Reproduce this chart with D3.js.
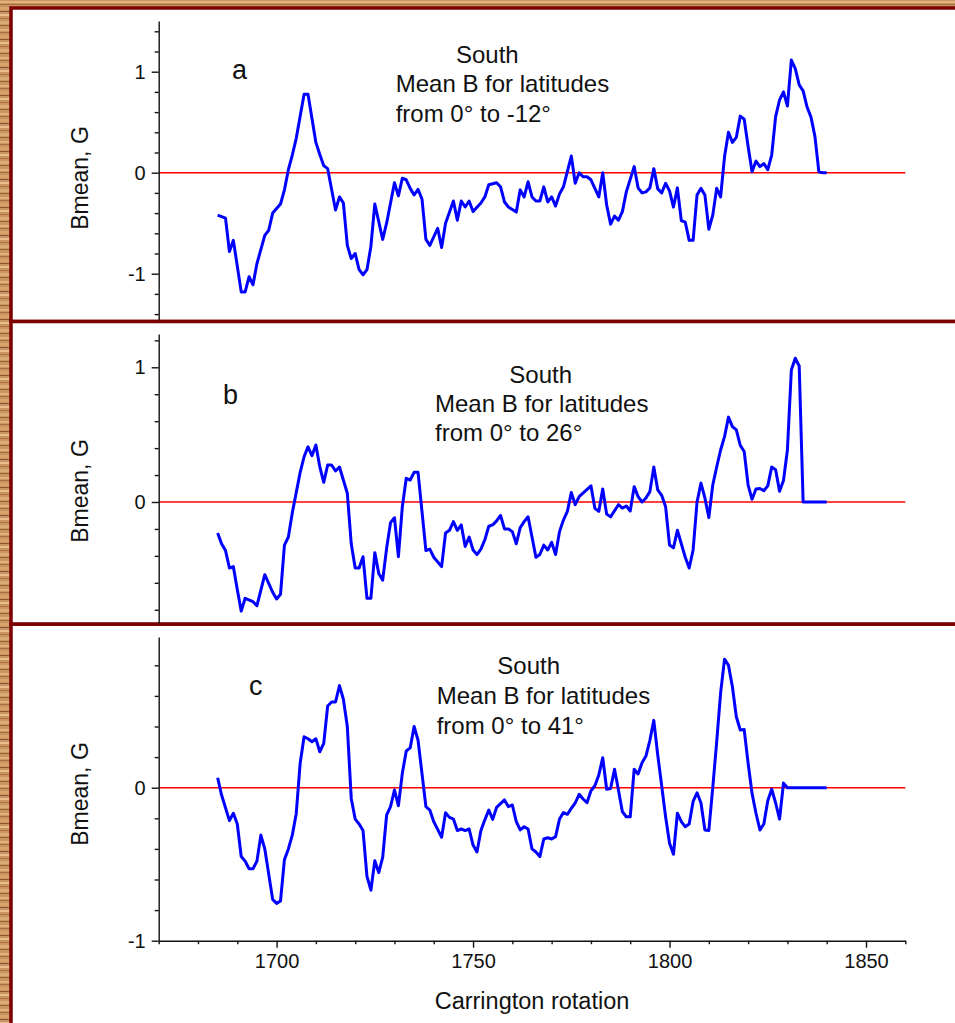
<!DOCTYPE html>
<html>
<head>
<meta charset="utf-8">
<script src="https://cdn.jsdelivr.net/npm/d3@7"></script>
<style>
  body { margin: 0; background: #fff; }
  text { font-family: "Liberation Sans", Arial, sans-serif; fill: #111; }
</style>
</head>
<body>
<div id="chart"></div>
<script>
// Carrington rotation, Bmean (G)
const seriesA = [
  [1685,-0.42],[1687,-0.45],[1688,-0.78],[1689,-0.67],[1691,-1.18],[1692,-1.18],[1693,-1.03],[1694,-1.11],
  [1695,-0.90],[1697,-0.62],[1698,-0.57],[1699,-0.40],[1701,-0.31],[1702,-0.17],[1703,0.03],[1704,0.175],
  [1705,0.34],[1707,0.776],[1708,0.776],[1710,0.30],[1711,0.18],[1712,0.07],[1713,0.04],[1715,-0.37],
  [1716,-0.24],[1717,-0.30],[1718,-0.72],[1719,-0.85],[1720,-0.80],[1721,-0.96],[1722,-1.01],[1723,-0.96],
  [1724,-0.73],[1725,-0.31],[1727,-0.66],[1728,-0.50],[1730,-0.10],[1731,-0.23],[1732,-0.055],[1733,-0.07],
  [1734,-0.155],[1735,-0.22],[1736,-0.165],[1737,-0.26],[1738,-0.66],[1739,-0.72],[1741,-0.55],[1742,-0.74],
  [1743,-0.50],[1745,-0.28],[1746,-0.47],[1747,-0.28],[1748,-0.34],[1749,-0.28],[1750,-0.385],[1752,-0.30],
  [1753,-0.24],[1754,-0.12],[1756,-0.10],[1757,-0.14],[1758,-0.29],[1759,-0.34],[1761,-0.39],[1762,-0.17],
  [1763,-0.24],[1764,-0.09],[1765,-0.24],[1766,-0.28],[1767,-0.28],[1768,-0.14],[1769,-0.29],[1770,-0.24],
  [1771,-0.33],[1772,-0.21],[1773,-0.14],[1775,0.165],[1776,-0.105],[1777,0.0],[1778,-0.04],[1779,-0.04],
  [1780,-0.07],[1782,-0.24],[1783,0.0],[1784,-0.32],[1785,-0.51],[1786,-0.43],[1787,-0.47],[1788,-0.385],
  [1789,-0.19],[1791,0.06],[1792,-0.15],[1793,-0.20],[1794,-0.19],[1795,-0.15],[1796,0.04],[1797,-0.16],
  [1798,-0.20],[1799,-0.105],[1800,-0.18],[1801,-0.34],[1802,-0.15],[1803,-0.475],[1804,-0.49],[1805,-0.67],
  [1806,-0.67],[1807,-0.22],[1808,-0.155],[1809,-0.22],[1810,-0.56],[1811,-0.42],[1812,-0.155],[1813,-0.24],
  [1814,0.16],[1815,0.40],[1816,0.30],[1817,0.35],[1818,0.56],[1819,0.53],[1820,0.26],[1821,0.01],
  [1822,0.115],[1823,0.06],[1824,0.09],[1825,0.03],[1826,0.175],[1827,0.555],[1828,0.72],[1829,0.80],
  [1830,0.66],[1831,1.115],[1832,1.03],[1833,0.87],[1834,0.81],[1835,0.65],[1836,0.55],[1837,0.36],
  [1838,0.01],[1839,0.0],[1840,0.0]
];

const seriesB = [
  [1685,-0.23],[1686,-0.31],[1687,-0.36],[1688,-0.49],[1689,-0.48],[1690,-0.65],[1691,-0.81],[1692,-0.715],
  [1694,-0.74],[1695,-0.77],[1697,-0.54],[1699,-0.67],[1700,-0.72],[1701,-0.685],[1702,-0.32],[1703,-0.26],
  [1704,-0.08],[1706,0.22],[1707,0.336],[1708,0.41],[1709,0.344],[1710,0.423],[1711,0.26],[1712,0.146],
  [1713,0.275],[1714,0.275],[1715,0.23],[1716,0.26],[1718,0.065],[1719,-0.31],[1720,-0.49],[1721,-0.49],
  [1722,-0.406],[1723,-0.715],[1724,-0.715],[1725,-0.376],[1726,-0.53],[1727,-0.58],[1728,-0.344],[1729,-0.153],
  [1730,-0.117],[1731,-0.406],[1732,-0.035],[1733,0.176],[1734,0.163],[1735,0.22],[1736,0.22],[1738,-0.36],
  [1739,-0.35],[1740,-0.41],[1742,-0.48],[1743,-0.23],[1744,-0.21],[1745,-0.146],[1746,-0.21],[1747,-0.17],
  [1748,-0.33],[1749,-0.26],[1750,-0.356],[1751,-0.39],[1752,-0.35],[1753,-0.28],[1754,-0.18],[1755,-0.17],
  [1756,-0.14],[1757,-0.10],[1758,-0.20],[1759,-0.20],[1760,-0.22],[1761,-0.31],[1762,-0.19],[1763,-0.146],
  [1764,-0.11],[1765,-0.26],[1766,-0.41],[1767,-0.39],[1768,-0.32],[1769,-0.356],[1770,-0.30],[1771,-0.39],
  [1772,-0.22],[1773,-0.134],[1774,-0.07],[1775,0.07],[1776,-0.02],[1777,0.04],[1780,0.12],[1781,-0.047],
  [1782,-0.07],[1783,0.096],[1784,-0.09],[1785,-0.11],[1787,-0.02],[1788,-0.045],[1789,-0.03],[1790,-0.067],
  [1791,0.114],[1792,0.04],[1793,0.0],[1794,0.03],[1795,0.077],[1796,0.26],[1797,0.09],[1798,0.05],
  [1799,-0.035],[1800,-0.32],[1801,-0.34],[1802,-0.21],[1803,-0.31],[1804,-0.41],[1805,-0.49],[1806,-0.356],
  [1807,0.0],[1808,0.14],[1809,0.03],[1810,-0.115],[1811,0.126],[1812,0.26],[1813,0.386],[1814,0.485],
  [1815,0.63],[1816,0.56],[1817,0.535],[1818,0.42],[1819,0.375],[1820,0.126],[1821,0.02],[1822,0.096],
  [1823,0.10],[1824,0.084],[1825,0.12],[1826,0.26],[1827,0.24],[1828,0.08],[1829,0.16],[1830,0.386],
  [1831,0.98],[1832,1.067],[1833,1.01],[1834,0.0],[1840,0.0]
];

const seriesC = [
  [1685,0.065],[1686,-0.048],[1688,-0.215],[1689,-0.167],[1690,-0.237],[1691,-0.45],[1692,-0.48],[1693,-0.53],
  [1694,-0.53],[1695,-0.48],[1696,-0.31],[1697,-0.40],[1699,-0.73],[1700,-0.756],[1701,-0.74],[1702,-0.47],
  [1703,-0.40],[1704,-0.31],[1705,-0.17],[1706,0.16],[1707,0.333],[1708,0.32],[1709,0.30],[1710,0.32],
  [1711,0.235],[1712,0.29],[1713,0.534],[1714,0.56],[1715,0.56],[1716,0.667],[1717,0.578],[1718,0.40],
  [1719,-0.07],[1720,-0.205],[1721,-0.237],[1722,-0.28],[1723,-0.58],[1724,-0.67],[1725,-0.477],[1726,-0.555],
  [1727,-0.455],[1728,-0.18],[1729,-0.124],[1730,-0.015],[1731,-0.118],[1732,0.094],[1733,0.24],[1734,0.26],
  [1735,0.40],[1736,0.31],[1738,-0.124],[1739,-0.146],[1740,-0.222],[1742,-0.324],[1743,-0.163],[1744,-0.194],
  [1745,-0.205],[1746,-0.28],[1747,-0.27],[1748,-0.28],[1749,-0.27],[1750,-0.375],[1751,-0.42],[1752,-0.28],
  [1753,-0.21],[1754,-0.146],[1755,-0.207],[1756,-0.128],[1758,-0.08],[1759,-0.124],[1760,-0.113],[1761,-0.222],
  [1762,-0.276],[1763,-0.255],[1764,-0.27],[1765,-0.40],[1766,-0.42],[1767,-0.45],[1768,-0.335],[1769,-0.327],
  [1770,-0.335],[1771,-0.32],[1772,-0.205],[1773,-0.163],[1774,-0.174],[1775,-0.135],[1776,-0.10],[1777,-0.043],
  [1778,-0.074],[1779,-0.098],[1780,-0.02],[1781,0.013],[1782,0.083],[1783,0.196],[1784,-0.01],[1785,-0.005],
  [1786,0.12],[1787,-0.015],[1788,-0.157],[1789,-0.19],[1790,-0.19],[1791,0.12],[1792,0.09],[1793,0.163],
  [1794,0.207],[1795,0.31],[1796,0.44],[1797,0.214],[1798,0.013],[1799,-0.19],[1800,-0.363],[1801,-0.435],
  [1802,-0.167],[1803,-0.222],[1804,-0.255],[1805,-0.237],[1806,-0.09],[1807,-0.033],[1808,-0.10],[1809,-0.276],
  [1810,-0.28],[1811,0.0],[1812,0.30],[1813,0.62],[1814,0.84],[1815,0.80],[1816,0.66],[1817,0.464],
  [1818,0.377],[1819,0.38],[1820,0.16],[1821,-0.037],[1822,-0.167],[1823,-0.276],[1824,-0.237],[1825,-0.085],
  [1826,-0.01],[1827,-0.10],[1828,-0.205],[1829,0.03],[1830,0.0],[1840,0.0]
];

// tick values and labels
const xMajor = [1700, 1750, 1800, 1850];
const xMinor = [1670, 1680, 1690, 1710, 1720, 1730, 1740, 1760, 1770, 1780, 1790, 1810, 1820, 1830, 1840, 1860];
const yMajorA = [-1, 0, 1];
const yMinorA = [-1.4, -1.2, -0.8, -0.6, -0.4, -0.2, 0.2, 0.4, 0.6, 0.8, 1.2, 1.4];
const yMajorB = [0, 1];
const yMinorB = [-0.8, -0.6, -0.4, -0.2, 0.2, 0.4, 0.6, 0.8, 1.2];
const yMajorC = [-1, 0];
const yMinorC = [-0.8, -0.6, -0.4, -0.2, 0.2, 0.4, 0.6, 0.8];

const notesA = ['South', 'Mean B for latitudes', 'from 0° to -12°'];
const notesB = ['South', 'Mean B for latitudes', 'from 0° to 26°'];
const notesC = ['South', 'Mean B for latitudes', 'from 0° to 41°'];

const width = 955;
const height = 1023;

// plain hyphen for negatives, as in the original plot
const numFormat = (d) => String(d);

const svg = d3
  .select('#chart')
  .append('svg')
  .attr('width', width)
  .attr('height', height);

// wood-grain frame behind the panels
const defs = svg.append('defs');
const wood = defs
  .append('pattern')
  .attr('id', 'wood')
  .attr('patternUnits', 'userSpaceOnUse')
  .attr('width', 80)
  .attr('height', 28);
wood.append('rect').attr('width', 80).attr('height', 28).attr('fill', '#c99461');
const grain = [
  [1, 2, '#e2b27c'], [4, 1, '#a66b3a'], [7, 3, '#d8a36b'], [11, 1, '#8c5830'],
  [14, 2, '#e9bf8b'], [18, 1, '#b0763f'], [21, 3, '#dcaa73'], [25, 1, '#9a6232']
];
grain.forEach(([gy, gh, gc]) => {
  wood.append('rect').attr('y', gy).attr('width', 80).attr('height', gh).attr('fill', gc);
});
svg.append('rect').attr('width', width).attr('height', height).attr('fill', 'url(#wood)');

// Chart scale (shared rotation axis)
const x = d3.scaleLinear().domain([1670, 1860]).range([158.7, 905.3]);

const panels = [
  {
    top: 8, bottom: 321.5, zero: 172.7, unit: 101, ext: [-1.458, 1.502],
    major: yMajorA, minor: yMinorA, data: seriesA, notes: notesA,
    letter: 'a', letterPos: [232, 79], labelY: 178,
    southPos: [456, 63], linesPos: [395.7, 92]
  },
  {
    top: 321.5, bottom: 624.2, zero: 502, unit: 134.7, ext: [-0.898, 1.247],
    major: yMajorB, minor: yMinorB, data: seriesB, notes: notesB,
    letter: 'b', letterPos: [223, 404], labelY: 491,
    southPos: [509.3, 382.7], linesPos: [435, 411.7]
  },
  {
    top: 624.2, bottom: 1040, zero: 787.7, unit: 153, ext: [-1, 0.985],
    major: yMajorC, minor: yMinorC, data: seriesC, notes: notesC,
    letter: 'c', letterPos: [249, 695], labelY: 794,
    southPos: [497.3, 674.3], linesPos: [436.7, 704]
  }
];

panels.forEach((p) => {
  // panel box
  svg
    .append('rect')
    .attr('x', 11)
    .attr('y', p.top)
    .attr('width', 1000)
    .attr('height', p.bottom - p.top)
    .attr('fill', '#fff')
    .attr('stroke', '#7d0000')
    .attr('stroke-width', 3.5);
});

panels.forEach((p, i) => {
  const y = d3
    .scaleLinear()
    .domain(p.ext)
    .range([p.zero - p.unit * p.ext[0], p.zero - p.unit * p.ext[1]]);

  const g = svg.append('g');

  // zero reference line
  g.append('line')
    .attr('x1', x(1670))
    .attr('x2', x(1860))
    .attr('y1', y(0))
    .attr('y2', y(0))
    .attr('stroke', '#ff0000')
    .attr('stroke-width', 1.6);

  // minor ticks
  g.append('g')
    .attr('transform', `translate(${x(1670)},0)`)
    .call(d3.axisLeft(y).tickValues(p.minor).tickSize(4).tickFormat(''))
    .call((a) => a.select('.domain').remove());

  // y-axis
  g.append('g')
    .attr('transform', `translate(${x(1670)},0)`)
    .call(d3.axisLeft(y).tickValues(p.major).tickSize(7).tickSizeOuter(0).tickPadding(6).tickFormat(numFormat))
    .call((a) => a.selectAll('text').style('font-size', '20px').attr('fill', '#111'));

  // curve
  g.append('path')
    .datum(p.data)
    .attr('fill', 'none')
    .attr('stroke', '#0000ff')
    .attr('stroke-width', 3)
    .attr('stroke-linejoin', 'round')
    .attr('d', d3.line().x((d) => x(d[0])).y((d) => y(d[1])));

  // panel letter
  g.append('text')
    .attr('x', p.letterPos[0])
    .attr('y', p.letterPos[1])
    .style('font-size', '27px')
    .text(p.letter);

  // annotation
  g.append('text')
    .attr('x', p.southPos[0])
    .attr('y', p.southPos[1])
    .style('font-size', '24px')
    .text(p.notes[0]);
  p.notes.slice(1).forEach((t, k) => {
    g.append('text')
      .attr('x', p.linesPos[0])
      .attr('y', p.linesPos[1] + k * 29.5)
      .style('font-size', '24px')
      .text(t);
  });

  // y-axis title
  g.append('text')
    .attr('transform', `translate(88,${p.labelY}) rotate(-90)`)
    .attr('text-anchor', 'middle')
    .style('font-size', '23px')
    .text('Bmean, G');

  // bottom x-axis only on the last panel
  if (i === panels.length - 1) {
    const xa = svg.append('g').attr('transform', `translate(0,${y(-1)})`);
    xa.append('g')
      .call(d3.axisBottom(x).tickValues(xMinor).tickSize(3.5).tickFormat(''))
      .call((a) => a.select('.domain').remove());
    xa.append('g')
      .call(d3.axisBottom(x).tickValues(xMajor).tickSize(7).tickSizeOuter(0).tickPadding(6).tickFormat(numFormat))
      .call((a) => a.selectAll('text').style('font-size', '20px').attr('fill', '#111'));

    svg
      .append('text')
      .attr('x', (x(1670) + x(1860)) / 2)
      .attr('y', 1009)
      .attr('text-anchor', 'middle')
      .style('font-size', '23.5px')
      .text('Carrington rotation');
  }
});

svg.selectAll('.tick line, .domain').attr('stroke', '#111').attr('stroke-width', 1.4);
</script>
</body>
</html>
